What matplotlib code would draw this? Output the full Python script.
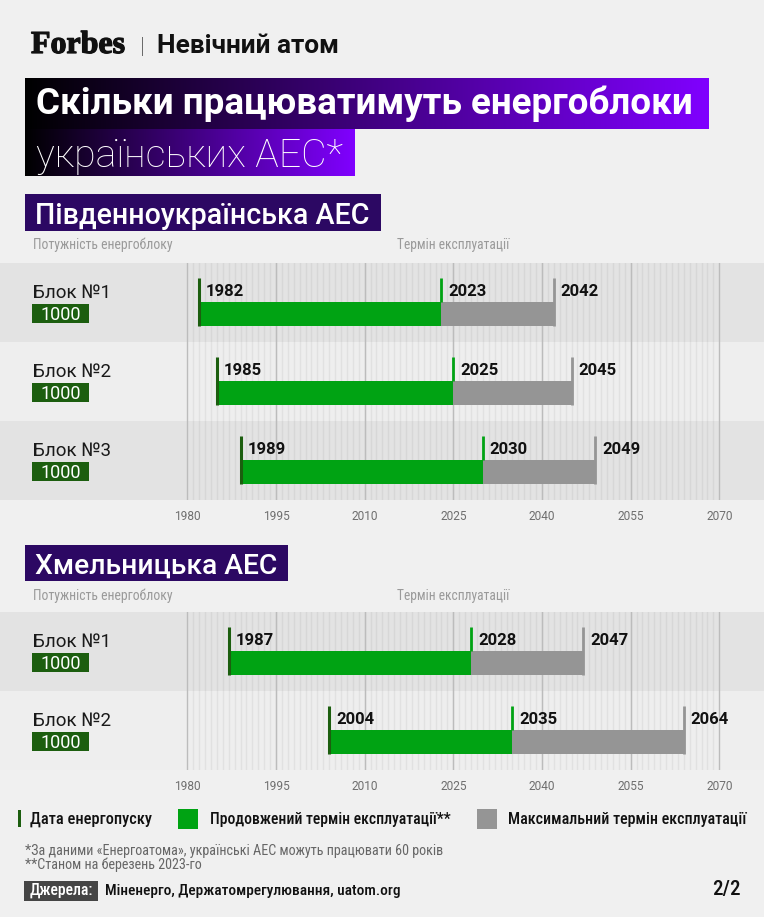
import numpy as np
import matplotlib
matplotlib.use('Agg')
import matplotlib.pyplot as plt
import matplotlib.patheffects as pe
from matplotlib import font_manager
from matplotlib.patches import Rectangle
from matplotlib.colors import LinearSegmentedColormap
from matplotlib.transforms import blended_transform_factory

# data
south_units = ['Блок №1', 'Блок №2', 'Блок №3']
south_power = [1000, 1000, 1000]
south_start = [1982, 1985, 1989]
south_ext = [2023, 2025, 2030]
south_max = [2042, 2045, 2049]

khm_units = ['Блок №1', 'Блок №2']
khm_power = [1000, 1000]
khm_start = [1987, 2004]
khm_ext = [2028, 2035]
khm_max = [2047, 2064]

ticks = [1980, 1995, 2010, 2025, 2040, 2055, 2070]

# colours
BG = '#f0f0f0'
BANDS = ['#e3e3e3', '#eeeeee']
GREEN = '#00a313'
DKGREEN = '#1c5e0f'
GRAY = '#959595'
PURPLE = '#2c0863'

names = {f.name for f in font_manager.fontManager.ttflist}
COND = 'Roboto'
for nm in ['Roboto Condensed', 'Liberation Sans Narrow', 'Open Sans Condensed']:
    if nm in names:
        COND = nm
        break
cond_weights = {f.weight for f in font_manager.fontManager.ttflist if f.name == COND}
LEGW = 'medium' if (500 in cond_weights or 'medium' in cond_weights) else 'bold'

plt.rcParams['font.family'] = ['Roboto', 'DejaVu Sans']

W, H = 764, 917
fig = plt.figure(figsize=(W / 100, H / 100), dpi=100, facecolor=BG)
renderer = fig.canvas.get_renderer()


def fx(x):
    return x / W


def fy(y):
    return 1 - y / H


def label(x, y, s, size, width=None, **kw):
    t = fig.text(fx(x), fy(y), s, fontsize=size, va='baseline', **kw)
    if width is not None:
        w = t.get_window_extent(renderer).width
        t.set_fontsize(size * width / w)
    return t


def box(x0, y0, x1, y1, color):
    fig.add_artist(Rectangle((fx(x0), fy(y1)), (x1 - x0) / W, (y1 - y0) / H,
                             transform=fig.transFigure, facecolor=color,
                             edgecolor='none', zorder=1))


def grad_box(x0, y0, x1, y1):
    a = fig.add_axes([fx(x0), fy(y1), (x1 - x0) / W, (y1 - y0) / H], zorder=1)
    cm = LinearSegmentedColormap.from_list('g', ['#000000', '#8000ff'])
    a.imshow(np.linspace(0, 1, 256)[None, :], aspect='auto', cmap=cm,
             extent=[0, 1, 0, 1])
    a.axis('off')


# header
label(31, 53, 'Forbes', 23, family='Liberation Serif', weight='bold',
      color='#111111',
      path_effects=[pe.withStroke(linewidth=0.9, foreground='#111111')])
label(140, 53, '|', 16, color='#111111', weight='light')
label(157, 53, 'Невічний атом', 20, width=182, weight='bold', color='#111111')

grad_box(25, 78, 709, 129)
grad_box(25, 129, 355, 176)
label(36, 114, 'Скільки працюватимуть енергоблоки', 28, width=656,
      weight='bold', color='white', zorder=5)
label(36, 167, 'українських АЕС*', 28, width=307, weight='light',
      color='white', zorder=5)

# x scale: 1980 at px 187.3, 2070 at px 719.3
ppy = (719.3 - 187.3) / 90
x_left = 1980 - 187.3 / ppy
x_right = 1980 + (W - 187.3) / ppy

BAR_TOP = 39 / 79
BAR_BOT = 63 / 79
MARK_TOP = 15 / 79


def draw_station(title, title_box, sub_y, top, bottom, units, power, start, ext, end):
    bx0, by0, bx1, by1, tx1 = title_box
    box(bx0, by0, bx1, by1, PURPLE)
    label(35, by1 - 7, title, 20, width=tx1 - 35, weight='medium',
          color='white', zorder=5)
    label(33, sub_y, 'Потужність енергоблоку', 8, width=139, family=COND,
          color='#9a9a9a')
    label(397, sub_y, 'Термін експлуатації', 8, width=112, family=COND,
          color='#9a9a9a')

    n = len(units)
    ax = fig.add_axes([0, fy(bottom), 1, (bottom - top) / H])
    ax.set_xlim(x_left, x_right)
    ax.set_ylim(n, 0)
    ax.set_facecolor('none')
    for s in ax.spines.values():
        s.set_visible(False)
    for i in range(n):
        ax.axhspan(i, i + 1, color=BANDS[i % 2], lw=0, zorder=0)
    for yr in range(ticks[0] + 1, ticks[-1]):
        ax.axvline(yr, color='black', alpha=0.05, lw=1, zorder=1)
    for yr in ticks:
        ax.axvline(yr, color='#bcbcbc', lw=1, zorder=1)

    y = np.arange(n) + (BAR_TOP + BAR_BOT) / 2
    h = BAR_BOT - BAR_TOP
    s_ = np.array(start)
    e_ = np.array(ext)
    m_ = np.array(end)
    ax.barh(y, e_ - s_, left=s_, height=h, color=GREEN, zorder=3)
    ax.barh(y, m_ - e_, left=e_, height=h, color=GRAY, zorder=3)
    rows = np.arange(n)
    ax.vlines(s_, rows + MARK_TOP, rows + BAR_BOT, color=DKGREEN, lw=2.2, zorder=4)
    ax.vlines(e_, rows + MARK_TOP, rows + BAR_TOP, color=GREEN, lw=2, zorder=4)
    ax.vlines(m_, rows + MARK_TOP, rows + BAR_BOT, color=GRAY, lw=2, zorder=4)
    for i in range(n):
        for v in (start[i], ext[i], end[i]):
            ax.annotate(str(v), (v, i + 33 / 79), xytext=(5, 0),
                        textcoords='offset points', va='baseline', ha='left',
                        fontsize=12, weight='bold', color='#111111', zorder=5)

    tr = blended_transform_factory(ax.transAxes, ax.transData)
    for i in range(n):
        ax.text(33 / W, i + 35 / 79, units[i], transform=tr, fontsize=13.5,
                va='baseline', color='#1a1a1a')
        ax.add_patch(Rectangle((32 / W, i + 41 / 79), 57 / W, 19 / 79,
                               transform=tr, facecolor=DKGREEN, edgecolor='none',
                               zorder=4))
        ax.text(60.5 / W, i + 57 / 79, str(power[i]), transform=tr, fontsize=13,
                va='baseline', ha='center', color='white', zorder=5)

    ax.set_yticks([])
    ax.set_xticks(ticks)
    ax.set_xticklabels([str(t) for t in ticks])
    ax.tick_params(axis='x', length=0, pad=7.5, labelsize=8.6, labelcolor='#6e6e6e')
    return ax


draw_station('Південноукраїнська АЕС', (25, 194, 381, 231, 370), 249,
             263, 500, south_units, south_power, south_start, south_ext, south_max)
draw_station('Хмельницька АЕС', (25, 545, 288, 581, 277), 600,
             612, 770, khm_units, khm_power, khm_start, khm_ext, khm_max)

# legend
box(18, 810, 21, 827, DKGREEN)
label(30, 824, 'Дата енергопуску', 10, width=122, family=COND, weight=LEGW,
      color='#111111')
box(178, 809, 198, 829, GREEN)
label(210, 824, 'Продовжений термін експлуатації**', 10, width=243, family=COND,
      weight=LEGW, color='#111111')
box(477, 809, 497, 829, GRAY)
label(508, 824, 'Максимальний термін експлуатації', 10, width=239, family=COND,
      weight=LEGW, color='#111111')

# notes
label(25, 855, '*За даними «Енергоатома», українські АЕС можуть працювати 60 років',
      8, width=418, family=COND, color='#666666')
label(25, 869, '**Станом на березень 2023-го', 8, width=178, family=COND,
      color='#666666')
box(24, 881, 98, 901, '#454545')
label(30, 895, 'Джерела:', 10, width=64, family=COND, weight=LEGW, color='white',
      zorder=5)
label(105, 895, 'Міненерго, Держатомрегулювання, uatom.org', 10, width=295,
      family=COND, weight=LEGW, color='#111111')
label(712, 895, '2/2', 10, width=28, family=COND, weight=LEGW, color='#111111')

fig.savefig('out.png', dpi=100, facecolor=BG)
